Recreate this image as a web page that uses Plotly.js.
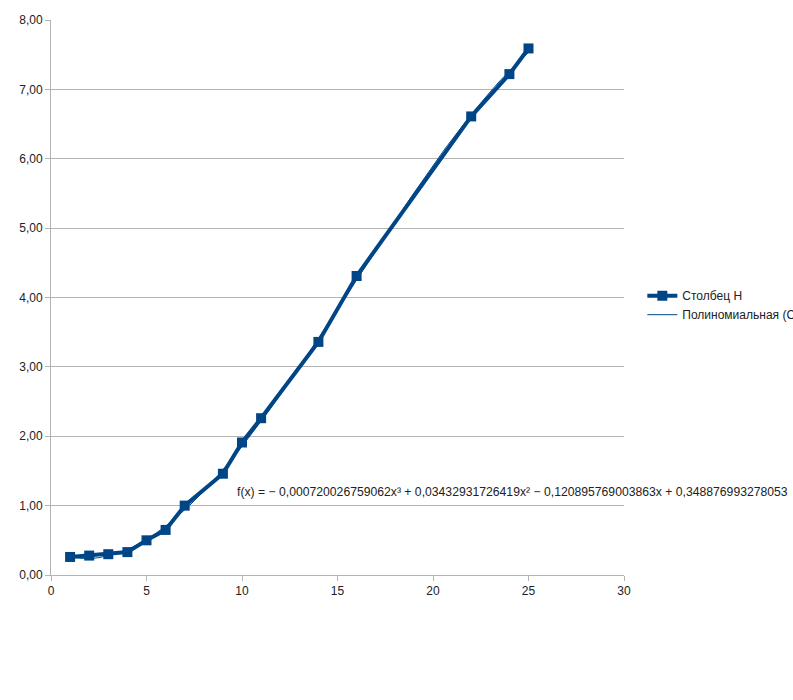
<!DOCTYPE html>
<html>
<head>
<meta charset="utf-8">
<script src="https://cdn.plot.ly/plotly-3.0.1.min.js"></script>
<style>html,body{margin:0;padding:0;background:#fff;overflow:hidden;}#chart{width:793px;height:700px;}</style>
</head>
<body>
<div id="chart"></div>
<script>
const xValues = [1, 2, 3, 4, 5, 6, 7, 9, 10, 11, 14, 16, 22, 24, 25];
const yValues = [0.26, 0.28, 0.30, 0.33, 0.50, 0.65, 1.00, 1.46, 1.91, 2.26, 3.36, 4.31, 6.61, 7.22, 7.59];
const seriesName = "Столбец H";
const trendName = "Полиномиальная (Столбец H)";
// trendline coefficients (highest power first) as shown on the chart
const trendCoefs = [-0.000720026759062, 0.03432931726419, -0.120895769003863, 0.348876993278053];
const trendLabel = "f(x) = − 0,000720026759062x³ + 0,03432931726419x² − 0,120895769003863x + 0,348876993278053";

const trendX = [];
for (let i = 0; i <= 96; i++) trendX.push(1 + i * 0.25);
const trendY = trendX.map(x => trendCoefs.reduce((acc, c) => acc * x + c, 0));

const blue = '#004586';
const data = [
  {x: xValues, y: yValues, type: 'scatter', mode: 'lines+markers', name: seriesName,
   line: {color: blue, width: 4}, marker: {symbol: 'square', size: 10, color: blue}},
  {x: trendX, y: trendY, type: 'scatter', mode: 'lines', name: trendName,
   line: {color: blue, width: 1}}
];
const layout = {
  width: 793, height: 700,
  margin: {l: 51, r: 169, t: 20, b: 125, autoexpand: false},
  paper_bgcolor: '#fff', plot_bgcolor: '#fff',
  separators: ', ',
  font: {family: 'Liberation Sans, Arial, sans-serif', size: 12, color: '#222'},
  showlegend: true,
  legend: {xref: 'container', yref: 'container', x: 0.81, xanchor: 'left', y: 0.564, yanchor: 'middle',
           bgcolor: 'rgba(0,0,0,0)', font: {size: 12, color: '#222'}, tracegroupgap: 0},
  xaxis: {range: [0, 30], dtick: 5, tick0: 0, showgrid: false, zeroline: false,
          showline: true, linecolor: '#b3b3b3', linewidth: 1,
          ticks: 'outside', ticklen: 5, tickcolor: '#b3b3b3', fixedrange: true},
  yaxis: {range: [0, 8], dtick: 1, tick0: 0, tickformat: '.2f', showgrid: true, gridcolor: '#b3b3b3',
          zeroline: false, showline: true, linecolor: '#b3b3b3', linewidth: 1,
          ticks: 'outside', ticklen: 5, tickcolor: '#b3b3b3', fixedrange: true},
  annotations: [{text: trendLabel, xref: 'x', yref: 'y', x: 9.64, y: 1.2, xanchor: 'left', yanchor: 'middle',
                 showarrow: false, font: {size: 12.2, color: '#222'}}]
};
Plotly.newPlot('chart', data, layout, {displayModeBar: false, staticPlot: true});
</script>
</body>
</html>
